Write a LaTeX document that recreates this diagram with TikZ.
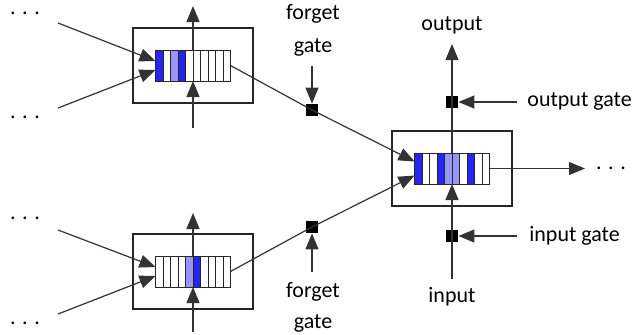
\documentclass[tikz,border=0pt]{standalone}
\usepackage{fontspec}
\setmainfont{Carlito}
\usetikzlibrary{positioning,calc,arrows.meta}

\definecolor{darkcell}{RGB}{38,38,240}
\definecolor{lightcell}{RGB}{150,150,250}

\tikzset{
  wire/.style={draw=black!80, line width=.6pt},
  arrow/.style={wire, -{Triangle[length=8pt,width=6.5pt]}},
  cellbox/.style={rectangle, draw=black!85, line width=.6pt, minimum width=60pt, minimum height=37.5pt, inner sep=0pt},
  register/.style={rectangle, minimum width=37.5pt, minimum height=15.5pt, inner sep=0pt, outer sep=0pt},
  slot/.style={rectangle, draw=black!85, line width=.5pt, minimum width=3.75pt, minimum height=15.5pt, inner sep=0pt, outer sep=0pt},
  gate/.style={rectangle, fill=black, minimum size=6pt, inner sep=0pt},
  txt/.style={font=\fontsize{11}{13}\selectfont, inner sep=1pt},
}

% memory block: outer frame, register of ten slots
\newcommand{\memblock}[3]{%
  \node [cellbox] (#1box) at #2 {};
  \node [register] (#1) at #2 {};
  \foreach \c [count=\i] in {#3}
    \node [slot, fill=\c] (#1-\i) at ($(#1.west)+(\i*7.5-3.75,0)$) {};
}

\begin{document}
\begin{tikzpicture}[auto, x=.5pt, y=-.5pt]
  \useasboundingbox (0,0) rectangle (636,334);

  % the three blocks
  \memblock{upper}{(193,65.5)}{darkcell,white,lightcell,darkcell,white,white,white,white,white,white}
  \memblock{lower}{(193,271.5)}{white,white,white,white,lightcell,darkcell,white,white,white,white}
  \memblock{merge}{(452,168.5)}{darkcell,white,white,darkcell,lightcell,lightcell,white,darkcell,white,white}

  % incoming dots
  \node [txt] (dotsA) at (25,13)  {. . .};
  \node [txt] (dotsB) at (25,117) {. . .};
  \node [txt] (dotsC) at (25,218) {. . .};
  \node [txt] (dotsD) at (25,323) {. . .};
  \coordinate (inA1) at (58,23);
  \coordinate (inA2) at (58,108);
  \coordinate (inB1) at (58,230);
  \coordinate (inB2) at (58,314);
  \draw [arrow] (inA1) -- ($(upper.west)+(0,-4.5)$);
  \draw [arrow] (inA2) -- ($(upper.west)+(0,4.5)$);
  \draw [arrow] (inB1) -- ($(lower.west)+(0,-4.5)$);
  \draw [arrow] (inB2) -- ($(lower.west)+(0,4.5)$);

  % vertical through the upper and lower blocks
  \coordinate (upperIn)  at (upper |- 0,128);
  \coordinate (upperOut) at (upper |- 0,6);
  \coordinate (lowerIn)  at (lower |- 0,332);
  \coordinate (lowerOut) at (lower |- 0,213);
  \draw [arrow] (upperIn) -- (upper.south);
  \draw [arrow] (upper.north) -- (upperOut);
  \draw [arrow] (lowerIn) -- (lower.south);
  \draw [arrow] (lower.north) -- (lowerOut);

  % forget gates
  \node [gate] (forgetA) at (312,110) {};
  \node [gate] (forgetB) at (312,227) {};
  \node [txt] (forgetAtxt) at (313,14)  {forget};
  \node [txt] (forgetAgate) at (313,47) {gate};
  \node [txt] (forgetBtxt) at (313,292) {forget};
  \node [txt] (forgetBgate) at (313,323) {gate};
  \coordinate (forgetAsrc) at (312,66);
  \coordinate (forgetBsrc) at (312,272);
  \draw [arrow] (forgetAsrc) -- (forgetA.north);
  \draw [arrow] (forgetBsrc) -- (forgetB.south);
  \draw [arrow] (upper.east) -- (forgetA.center) -- ($(merge.west)+(0,-7)$);
  \draw [arrow] (lower.east) -- (forgetB.center) -- ($(merge.west)+(0,7)$);

  % output side
  \node [gate] (outgate) at (452,102) {};
  \node [txt] (outtxt) at (452,25) {output};
  \node [txt, anchor=west] (outgatetxt) at (525,101) {output gate};
  \coordinate (outTop) at (452,44);
  \coordinate (outGateSrc) at (517,102);
  \draw [arrow] (merge.north) -- (outgate.center) -- (outTop);
  \draw [arrow] (outGateSrc) -- (outgate.east);

  % input side
  \node [gate] (ingate) at (452,236) {};
  \node [txt] (intxt) at (452,297) {input};
  \node [txt, anchor=west] (ingatetxt) at (527,236) {input gate};
  \coordinate (inBottom) at (452,279);
  \coordinate (inGateSrc) at (517,236);
  \draw [arrow] (inBottom) -- (ingate.center) -- (merge.south);
  \draw [arrow] (inGateSrc) -- (ingate.east);

  % onward
  \coordinate (mergeOut) at (585,168.5);
  \node [txt] (dotsE) at (611,168.5) {. . .};
  \draw [arrow] (merge.east) -- (mergeOut);
\end{tikzpicture}
\end{document}
